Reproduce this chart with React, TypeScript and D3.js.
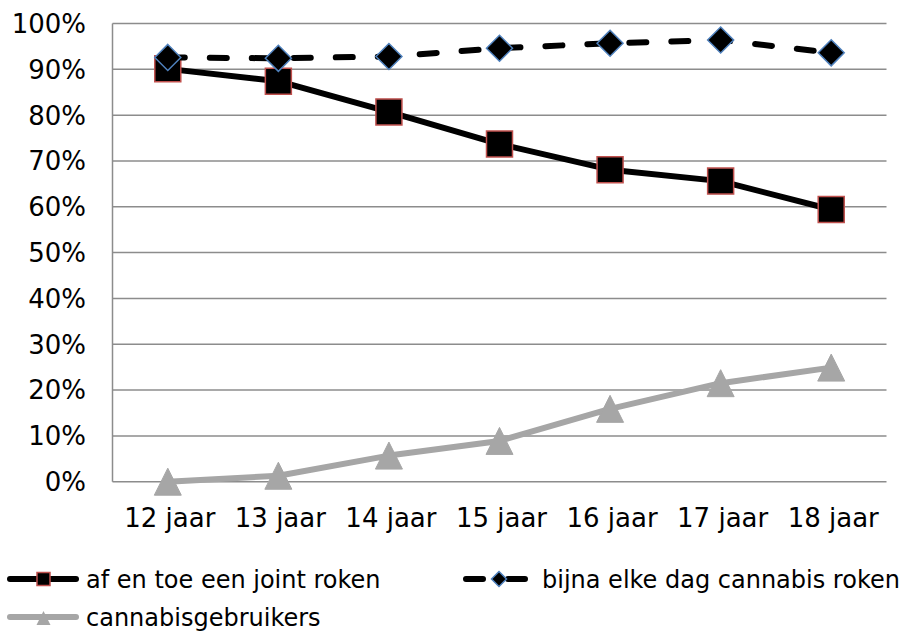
import React from "react";
import * as d3 from "d3";

const categories = ["12 jaar", "13 jaar", "14 jaar", "15 jaar", "16 jaar", "17 jaar", "18 jaar"];
const afEnToe = [90.1, 87.4, 80.7, 73.7, 68.1, 65.6, 59.4];
const bijnaElkeDag = [92.6, 92.4, 92.8, 94.6, 95.7, 96.4, 93.6];
const gebruikers = [0.0, 1.3, 5.7, 8.9, 15.9, 21.5, 24.9];
const yTicks = [0, 10, 20, 30, 40, 50, 60, 70, 80, 90, 100];
const seriesNames = ["af en toe een joint roken", "bijna elke dag cannabis roken", "cannabisgebruikers"];

const W = 904;
const H = 631;
const left = 112.5;
const right = 886.5;
const top = 23.5;
const bottom = 481.7;
const FONT = "'DejaVu Sans', Verdana, sans-serif";
const GRID = "#8c8c8c";
const RED = "#C0504D";
const BLUE = "#4F81BD";
const GRAY = "#A6A6A6";

function squarePath(cx: number, cy: number, s: number) {
  const h = s / 2;
  return `M${cx - h},${cy - h}H${cx + h}V${cy + h}H${cx - h}Z`;
}
function diamondPath(cx: number, cy: number, s: number) {
  const h = s / 2;
  return `M${cx},${cy - h}L${cx + h},${cy}L${cx},${cy + h}L${cx - h},${cy}Z`;
}
function trianglePath(cx: number, cy: number, w: number, hgt: number) {
  return `M${cx},${cy - hgt / 2}L${cx + w / 2},${cy + hgt / 2}L${cx - w / 2},${cy + hgt / 2}Z`;
}

export default function App() {
  const x = d3.scalePoint<string>().domain(categories).range([left, right]).padding(0.5);
  const y = d3.scaleLinear().domain([0, 100]).range([bottom, top]);
  const line = d3
    .line<number>()
    .x((_, i) => x(categories[i]) as number)
    .y((d) => y(d));

  return (
    <svg
      width={W}
      height={H}
      style={{ position: "absolute", left: 0, top: 0, background: "#fff" }}
      fontFamily={FONT}
    >
      {/* gridlines */}
      {yTicks.map((t) => (
        <line key={t} x1={left} x2={right} y1={y(t)} y2={y(t)} stroke={GRID} strokeWidth={1.5} />
      ))}
      <line x1={left} x2={left} y1={top} y2={bottom} stroke={GRID} strokeWidth={1.5} />
      {/* y labels */}
      {yTicks.map((t) => (
        <text key={t} x={86} y={y(t)} dy="0.36em" textAnchor="end" fontSize={26} fill="#000">
          {t}%
        </text>
      ))}
      {/* x labels */}
      {categories.map((c) => (
        <text key={c} x={(x(c) as number) + 2} y={527} textAnchor="middle" fontSize={26} fill="#000">
          {c}
        </text>
      ))}

      {/* series 1 */}
      <path d={line(afEnToe) || ""} fill="none" stroke="#000" strokeWidth={6} strokeLinejoin="round" />
      {afEnToe.map((v, i) => (
        <path key={i} d={squarePath(x(categories[i]) as number, y(v), 26)} fill="#000" stroke={RED} strokeWidth={1.5} />
      ))}
      {/* series 2 */}
      <path
        d={line(bijnaElkeDag) || ""}
        fill="none"
        stroke="#000"
        strokeWidth={6}
        strokeDasharray="17 25"
        strokeLinecap="round"
      />
      {bijnaElkeDag.map((v, i) => (
        <path key={i} d={diamondPath(x(categories[i]) as number, y(v), 26)} fill="#000" stroke={BLUE} strokeWidth={1.5} />
      ))}
      {/* series 3 */}
      <path d={line(gebruikers) || ""} fill="none" stroke={GRAY} strokeWidth={6} strokeLinejoin="round" />
      {gebruikers.map((v, i) => (
        <path key={i} d={trianglePath(x(categories[i]) as number, y(v), 27, 27)} fill={GRAY} stroke={GRAY} strokeWidth={1} />
      ))}

      {/* legend */}
      <line x1={10} x2={76} y1={579} y2={579} stroke="#000" strokeWidth={6} strokeLinecap="round" />
      <path d={squarePath(43.5, 579, 13)} fill="#000" stroke={RED} strokeWidth={1.5} />
      <text x={86} y={588} fontSize={24} fill="#000">{seriesNames[0]}</text>

      <line x1={466} x2={525} y1={579} y2={579} stroke="#000" strokeWidth={6} strokeDasharray="17 25" strokeLinecap="round" />
      <path d={diamondPath(499, 579, 15)} fill="#000" stroke={BLUE} strokeWidth={1.5} />
      <text x={542} y={588} fontSize={24} fill="#000">{seriesNames[1]}</text>

      <line x1={10} x2={76} y1={617} y2={617} stroke={GRAY} strokeWidth={6} strokeLinecap="round" />
      <path d={trianglePath(43.5, 618, 14, 14)} fill={GRAY} />
      <text x={86} y={626} fontSize={24} fill="#000">{seriesNames[2]}</text>
    </svg>
  );
}
